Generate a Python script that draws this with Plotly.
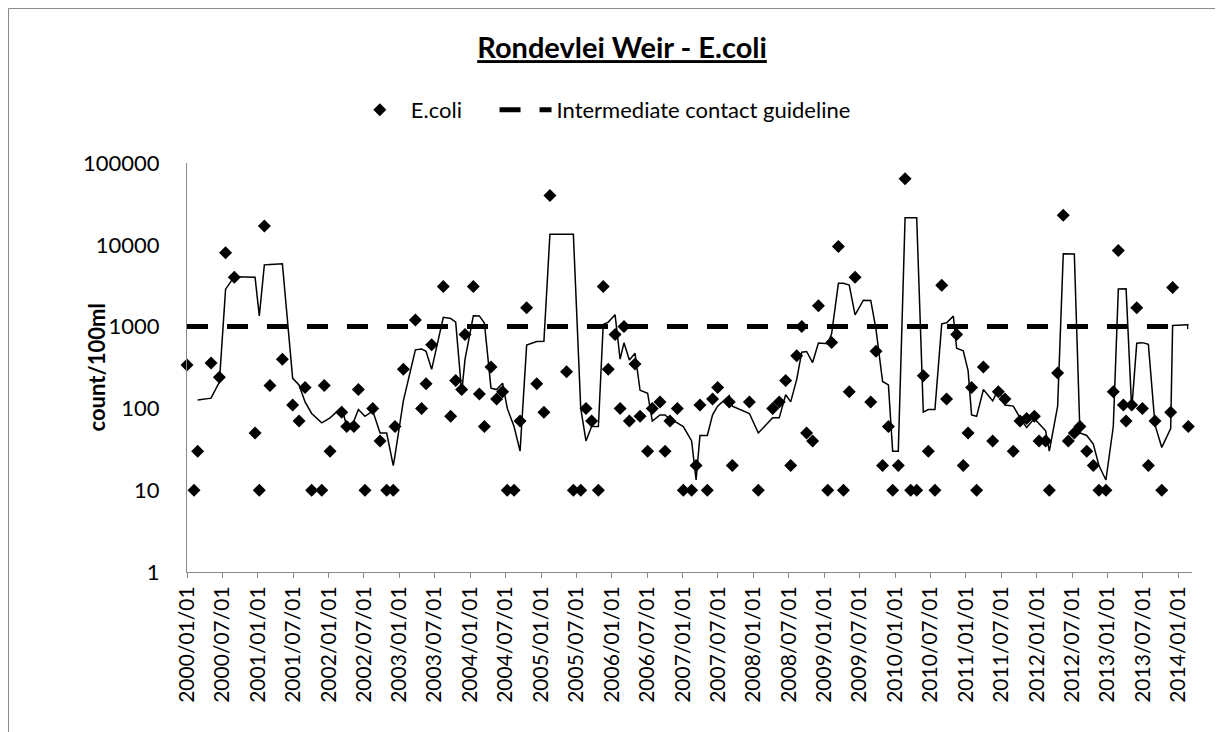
import numpy as np
import plotly.graph_objects as go

# ---------------- data ----------------
dates = [
    "2000-01-01", "2000-02-06", "2000-02-25", "2000-05-04", "2000-06-16", "2000-07-18",
    "2000-09-01", "2000-12-17", "2001-01-08", "2001-02-03", "2001-03-04", "2001-05-07",
    "2001-06-29", "2001-08-01", "2001-09-01", "2001-10-05", "2001-11-26", "2001-12-09",
    "2002-01-08", "2002-03-09", "2002-04-04", "2002-05-11", "2002-06-03", "2002-07-07",
    "2002-08-16", "2002-09-23", "2002-10-27", "2002-11-30", "2002-12-09", "2003-01-21",
    "2003-03-24", "2003-04-25", "2003-05-18", "2003-06-16", "2003-08-15", "2003-09-22",
    "2003-10-18", "2003-11-18", "2003-12-05", "2004-01-17", "2004-02-17", "2004-03-14",
    "2004-04-17", "2004-05-16", "2004-06-16", "2004-07-10", "2004-08-14", "2004-09-14",
    "2004-10-18", "2004-12-09", "2005-01-15", "2005-02-15", "2005-05-12", "2005-06-16",
    "2005-07-24", "2005-08-20", "2005-09-18", "2005-10-23", "2005-11-17", "2005-12-13",
    "2006-01-17", "2006-02-12", "2006-03-04", "2006-04-01", "2006-04-30", "2006-05-26",
    "2006-07-04", "2006-07-28", "2006-09-06", "2006-10-02", "2006-10-27", "2006-12-04",
    "2007-01-04", "2007-02-16", "2007-03-11", "2007-03-31", "2007-05-08", "2007-06-04",
    "2007-06-30", "2007-08-29", "2007-09-14", "2007-12-11", "2008-01-26", "2008-04-09",
    "2008-05-13", "2008-06-15", "2008-07-11", "2008-08-11", "2008-09-06", "2008-10-01",
    "2008-11-01", "2008-12-01", "2009-01-18", "2009-02-07", "2009-03-14", "2009-04-09",
    "2009-05-09", "2009-06-08", "2009-08-28", "2009-09-24", "2009-10-28", "2009-11-27",
    "2009-12-19", "2010-01-17", "2010-02-21", "2010-03-22", "2010-04-22", "2010-05-26",
    "2010-06-21", "2010-07-25", "2010-08-29", "2010-09-23", "2010-11-14", "2010-12-18",
    "2011-01-12", "2011-01-30", "2011-02-25", "2011-04-01", "2011-05-19", "2011-06-17",
    "2011-07-21", "2011-09-02", "2011-10-07", "2011-11-10", "2011-12-20", "2012-01-13",
    "2012-02-16", "2012-03-06", "2012-04-18", "2012-05-17", "2012-06-12", "2012-07-13",
    "2012-08-11", "2012-09-15", "2012-10-19", "2012-11-17", "2012-12-23", "2013-01-30",
    "2013-02-25", "2013-03-23", "2013-04-06", "2013-05-05", "2013-05-31", "2013-06-29",
    "2013-07-30", "2013-09-02", "2013-10-07", "2013-11-22", "2013-12-02", "2014-02-21",
]

ecoli = [
    340, 10, 30, 360, 240, 8000,
    4000, 50, 10, 17000, 190, 400,
    110, 70, 180, 10, 10, 190,
    30, 90, 60, 60, 170, 10,
    100, 40, 10, 10, 60, 300,
    1200, 100, 200, 600, 3100, 80,
    220, 170, 800, 3100, 150, 60,
    320, 130, 160, 10, 10, 70,
    1700, 200, 90, 40000, 280, 10,
    10, 100, 70, 10, 3100, 300,
    800, 100, 1000, 70, 350, 80,
    30, 100, 120, 30, 70, 100,
    10, 10, 20, 110, 10, 130,
    180, 120, 20, 120, 10, 100,
    120, 220, 20, 440, 1000, 50,
    40, 1800, 10, 640, 9500, 10,
    160, 4000, 120, 500, 20, 60,
    10, 20, 64000, 10, 10, 250,
    30, 10, 3200, 130, 800, 20,
    50, 180, 10, 320, 40, 160,
    130, 30, 70, 75, 80, 40,
    40, 10, 270, 23000, 40, 50,
    60, 30, 20, 10, 10, 160,
    8500, 110, 70, 110, 1700, 100,
    20, 70, 10, 90, 3000, 60,
]

# samples that enter the trend line of the source chart but have no visible marker
unmarked_dates = ["2009-07-21", "2010-10-28"]
unmarked_values = [2150, 700]

guideline_value = 1000
moving_average_period = 3

tick_dates = [
    "2000-01-01", "2000-07-01", "2001-01-01", "2001-07-01", "2002-01-01", "2002-07-01",
    "2003-01-01", "2003-07-01", "2004-01-01", "2004-07-01", "2005-01-01", "2005-07-01",
    "2006-01-01", "2006-07-01", "2007-01-01", "2007-07-01", "2008-01-01", "2008-07-01",
    "2009-01-01", "2009-07-01", "2010-01-01", "2010-07-01", "2011-01-01", "2011-07-01",
    "2012-01-01", "2012-07-01", "2013-01-01", "2013-07-01", "2014-01-01",
]
tick_labels = [d.replace("-", "/") for d in tick_dates]
y_tick_values = [1, 10, 100, 1000, 10000, 100000]
y_tick_labels = ["1", "10", "100", "1000", "10000", "100000"]

# ---------------- moving-average trend line ----------------
samples = sorted(zip(dates + unmarked_dates, ecoli + unmarked_values))
ma_x = [samples[i][0] for i in range(moving_average_period - 1, len(samples))]
ma_y = [
    float(np.mean([v for _, v in samples[i - moving_average_period + 1:i + 1]]))
    for i in range(moving_average_period - 1, len(samples))
]

FONT = "Lato"
GRAY = "#898989"

# the page body adds an 8px margin; the figure starts at (8, 8) in the window
W, H = 1215, 724

fig = go.Figure()

fig.add_trace(go.Scatter(
    x=[dates[0], dates[-1]], y=[guideline_value, guideline_value],
    mode="lines", name="Intermediate contact guideline", legend="legend2",
    line=dict(color="black", width=5, dash="21px,19px"),
))
fig.add_trace(go.Scatter(
    x=ma_x, y=ma_y, mode="lines", showlegend=False,
    line=dict(color="black", width=1.5),
))
fig.add_trace(go.Scatter(
    x=dates, y=ecoli, mode="markers", name="E.coli", legend="legend",
    marker=dict(symbol="diamond", size=10, color="black", line=dict(width=0)),
    cliponaxis=False,
))

legend_common = dict(
    orientation="h", xanchor="left", y=1.13, yanchor="middle",
    font=dict(family=FONT, size=22, color="black"),
    bgcolor="rgba(0,0,0,0)", itemwidth=52,
)

fig.update_layout(
    width=W, height=H,
    paper_bgcolor="white", plot_bgcolor="white",
    margin=dict(l=179, r=31, t=155, b=160, autoexpand=False),
    font=dict(family=FONT, color="black", size=22),
    title=dict(
        text="<b><u>Rondevlei Weir - E.coli</u></b>",
        x=0.5054, xref="container", xanchor="center",
        y=0.9448, yref="container", yanchor="middle",
        font=dict(family=FONT, size=29, color="black"),
    ),
    legend=dict(x=0.161, **legend_common),
    legend2=dict(x=0.306, **legend_common),
    showlegend=True,
)

fig.update_xaxes(
    type="date", range=["2000-01-01", "2014-03-12"],
    tickmode="array", tickvals=tick_dates, ticktext=tick_labels,
    tickangle=-90, ticks="outside", ticklen=5, tickcolor=GRAY, tickwidth=1,
    showline=True, linecolor=GRAY, linewidth=1, showgrid=False, zeroline=False,
    tickfont=dict(family=FONT, size=21, color="black"),
    automargin=False,
)
fig.update_yaxes(
    type="log", range=[0, 5],
    tickmode="array", tickvals=y_tick_values, ticktext=y_tick_labels,
    ticks="outside", ticklen=22, tickcolor="rgba(0,0,0,0)",
    showline=True, linecolor=GRAY, linewidth=1, showgrid=False, zeroline=False,
    tickfont=dict(family=FONT, size=22, color="black"),
    automargin=False,
)

fig.add_annotation(
    text="<b>count/100ml</b>", textangle=-90,
    x=-0.0896, xref="paper", y=0.5, yref="paper",
    xanchor="center", yanchor="middle", showarrow=False,
    font=dict(family=FONT, size=22, color="black"),
)

# chart-area border
fig.add_shape(
    type="rect", xref="paper", yref="paper",
    x0=-0.1776, x1=1.0239, y0=-0.45, y1=1.3778,
    line=dict(color=GRAY, width=1), fillcolor="rgba(0,0,0,0)", layer="below",
)

fig.write_html("out.html")
